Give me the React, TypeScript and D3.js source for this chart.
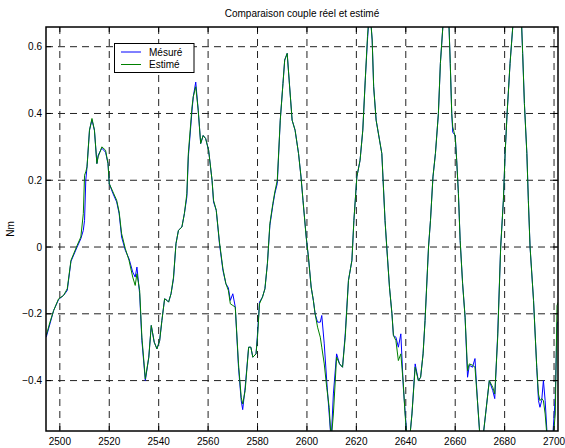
import React from 'react';
import * as d3 from 'd3';

// échantillons (abscisse) et couples
const samples = [
  2494.5, 2496, 2497.5, 2499.5, 2501.5, 2503, 2504.5, 2507, 2508.5, 2509.5,
  2510, 2510.5, 2511, 2512, 2513, 2514, 2515, 2515.5, 2517, 2518.5,
  2519.5, 2520, 2521.5, 2523, 2524, 2525, 2526.5, 2528, 2529.5, 2530.5,
  2531.2, 2532.3, 2533.2, 2534.6, 2536, 2537, 2538.2, 2539.3, 2540.4, 2541.3,
  2542.4, 2543.4, 2544, 2545, 2546, 2547, 2548, 2549.4, 2550.4, 2551.4,
  2552, 2553.5, 2554, 2555, 2556, 2556.5, 2557, 2558, 2559, 2560.2,
  2561.6, 2562.2, 2563.3, 2564.6, 2566, 2567.2, 2568.2, 2569, 2570, 2571,
  2572.3, 2573.4, 2574, 2575, 2576.4, 2577.3, 2578.1, 2579.4, 2580, 2580.8,
  2582, 2583, 2584, 2585, 2586.2, 2587, 2588, 2589.2, 2590.3, 2591,
  2592, 2592.8, 2594, 2595.2, 2596.6, 2597.6, 2598.4, 2599.7, 2600.6, 2601.7,
  2602.6, 2603.3, 2604.3, 2605.4, 2606, 2607, 2608, 2609, 2609.8, 2610.7,
  2612, 2613.2, 2614.4, 2615.5, 2616.8, 2618.2, 2619, 2620.2, 2621.5, 2622.6,
  2623.6, 2624.5, 2625.4, 2626.4, 2627, 2628, 2630.3, 2631.6, 2632.3, 2633.4,
  2634.4, 2635, 2636, 2637, 2638, 2639, 2639.7, 2641, 2642.5, 2643.8,
  2645.1, 2646, 2647, 2647.8, 2649.2, 2650, 2651, 2652, 2653.2, 2654,
  2655, 2656.2, 2657.5, 2658, 2658.6, 2659, 2660, 2660.6, 2661.3, 2662,
  2663, 2664, 2665, 2665.7, 2667, 2668, 2669, 2670.5, 2672.3, 2673.8,
  2675.2, 2676, 2677.2, 2678.4, 2679.5, 2680.2, 2681, 2682.2, 2683.3, 2685,
  2686.9, 2687.3, 2688, 2689, 2689.6, 2690.3, 2691.7, 2693, 2693.7, 2694.3,
  2695, 2695.7, 2696.4, 2697.5, 2699, 2700.5, 2701.2, 2702,
];

const mesure = [
  -0.27, -0.23, -0.19, -0.157, -0.145, -0.13, -0.043, 0, 0.025, 0.05,
  0.08, 0.2, 0.24, 0.35, 0.381, 0.35, 0.25, 0.275, 0.296, 0.284,
  0.25, 0.19, 0.16, 0.135, 0.1, 0.03, -0.01, -0.035, -0.075, -0.09,
  -0.06, -0.14, -0.28, -0.4, -0.33, -0.235, -0.285, -0.305, -0.28, -0.22,
  -0.155, -0.16, -0.165, -0.14, -0.095, 0.01, 0.05, 0.06, 0.1, 0.15,
  0.27, 0.41, 0.45, 0.494, 0.41, 0.36, 0.31, 0.334, 0.325, 0.29,
  0.2, 0.135, 0.11, 0.01, -0.07, -0.11, -0.122, -0.16, -0.14, -0.18,
  -0.36, -0.46, -0.487, -0.42, -0.3, -0.3, -0.33, -0.32, -0.26, -0.165,
  -0.15, -0.125, -0.05, 0.065, 0.125, 0.16, 0.19, 0.38, 0.49, 0.56,
  0.58, 0.5, 0.38, 0.35, 0.28, 0.21, 0.14, 0.03, -0.03, -0.12,
  -0.16, -0.2, -0.225, -0.225, -0.205, -0.29, -0.4, -0.5, -0.58, -0.44,
  -0.32, -0.35, -0.36, -0.26, -0.1, -0.04, 0.08, 0.21, 0.26, 0.35,
  0.5, 0.62, 0.72, 0.62, 0.48, 0.38, 0.28, 0.08, 0, -0.12,
  -0.2, -0.265, -0.27, -0.3, -0.26, -0.42, -0.49, -0.62, -0.5, -0.35,
  -0.4, -0.39, -0.32, -0.22, 0, 0.08, 0.21, 0.28, 0.4, 0.55,
  0.66, 0.8, 0.66, 0.55, 0.4, 0.344, 0.334, 0.26, 0.16, 0.02,
  -0.11, -0.21, -0.39, -0.354, -0.36, -0.334, -0.46, -0.62, -0.5, -0.4,
  -0.43, -0.454, -0.26, 0, 0.14, 0.28, 0.4, 0.55, 0.66, 0.8,
  0.66, 0.58, 0.43, 0.28, 0.14, 0, -0.16, -0.36, -0.46, -0.48,
  -0.46, -0.4, -0.46, -0.6, -0.62, -0.45, -0.23, -0.22,
];

const estime = [
  -0.265, -0.225, -0.19, -0.155, -0.145, -0.125, -0.04, 0.005, 0.03, 0.1,
  0.215, 0.225, 0.24, 0.35, 0.385, 0.35, 0.25, 0.27, 0.3, 0.29,
  0.25, 0.19, 0.165, 0.14, 0.105, 0.04, -0.005, -0.04, -0.09, -0.115,
  -0.08, -0.13, -0.27, -0.395, -0.33, -0.235, -0.285, -0.305, -0.28, -0.22,
  -0.155, -0.16, -0.165, -0.14, -0.09, 0.01, 0.05, 0.06, 0.1, 0.16,
  0.28, 0.42, 0.45, 0.48, 0.41, 0.36, 0.31, 0.334, 0.325, 0.29,
  0.2, 0.14, 0.11, 0.015, -0.065, -0.11, -0.13, -0.17, -0.175, -0.18,
  -0.35, -0.45, -0.47, -0.43, -0.3, -0.3, -0.33, -0.32, -0.27, -0.17,
  -0.15, -0.125, -0.05, 0.07, 0.13, 0.165, 0.2, 0.38, 0.49, 0.56,
  0.58, 0.5, 0.38, 0.35, 0.28, 0.21, 0.14, 0.03, -0.03, -0.12,
  -0.16, -0.2, -0.24, -0.27, -0.3, -0.35, -0.42, -0.48, -0.58, -0.5,
  -0.33, -0.35, -0.36, -0.27, -0.1, -0.04, 0.08, 0.21, 0.26, 0.35,
  0.5, 0.63, 0.72, 0.62, 0.48, 0.38, 0.28, 0.08, 0, -0.12,
  -0.2, -0.265, -0.28, -0.34, -0.32, -0.41, -0.5, -0.62, -0.5, -0.36,
  -0.4, -0.39, -0.32, -0.22, 0, 0.08, 0.21, 0.28, 0.4, 0.55,
  0.66, 0.8, 0.66, 0.55, 0.4, 0.36, 0.33, 0.26, 0.16, 0.02,
  -0.11, -0.21, -0.37, -0.35, -0.354, -0.36, -0.46, -0.62, -0.5, -0.4,
  -0.42, -0.44, -0.27, 0, 0.14, 0.28, 0.4, 0.55, 0.66, 0.8,
  0.66, 0.58, 0.43, 0.28, 0.14, 0, -0.16, -0.36, -0.44, -0.46,
  -0.454, -0.46, -0.5, -0.6, -0.62, -0.5, -0.175, -0.16,
];

const xTicks = [2500, 2520, 2540, 2560, 2580, 2600, 2620, 2640, 2660, 2680, 2700];
const yTicks = [-0.4, -0.2, 0, 0.2, 0.4, 0.6];
const legendLabels = ['Mésuré', 'Estimé'];
const colors = ['#0000ff', '#008000'];

const W = 565;
const H = 448;
const left = 46, right = 558, top = 27, bottom = 431;

const App = () => {
  const x = d3.scaleLinear().domain([2494.4, 2701.6]).range([left, right]);
  const y = d3.scaleLinear().domain([-0.551, 0.659]).range([bottom, top]);

  const line = d3.line<number>()
    .x((d, i) => x(samples[i]))
    .y(d => y(d));

  const font = 'Arial, "Liberation Sans", Helvetica, sans-serif';
  const dash = '7,5';

  return (
    <div style={{ position: 'absolute', left: 0, top: 0, width: W, height: H, background: '#fff' }}>
      <svg width={W} height={H} style={{ display: 'block' }} fontFamily={font} fontSize={10}>
        <defs>
          <clipPath id="plot">
            <rect x={left} y={top} width={right - left} height={bottom - top} />
          </clipPath>
        </defs>

        {/* grille */}
        {xTicks.map(t => (
          <line key={'gx' + t} x1={x(t)} x2={x(t)} y1={top} y2={bottom}
            stroke="#222" strokeWidth={1} strokeDasharray={dash} />
        ))}
        {yTicks.map(t => (
          <line key={'gy' + t} x1={left} x2={right} y1={y(t)} y2={y(t)}
            stroke="#222" strokeWidth={1} strokeDasharray={dash} />
        ))}

        {/* courbes */}
        <g clipPath="url(#plot)" fill="none" strokeWidth={1}>
          <path d={line(mesure) || ''} stroke={colors[0]} />
          <path d={line(estime) || ''} stroke={colors[1]} />
        </g>

        {/* cadre et graduations */}
        <rect x={left} y={top} width={right - left} height={bottom - top}
          fill="none" stroke="#000" strokeWidth={1.5} />
        {xTicks.map(t => (
          <g key={'tx' + t}>
            <line x1={x(t)} x2={x(t)} y1={bottom} y2={bottom - 5} stroke="#000" />
            <line x1={x(t)} x2={x(t)} y1={top} y2={top + 5} stroke="#000" />
            <text x={x(t)} y={445} textAnchor="middle">{t}</text>
          </g>
        ))}
        {yTicks.map(t => (
          <g key={'ty' + t}>
            <line x1={left} x2={left + 5} y1={y(t)} y2={y(t)} stroke="#000" />
            <line x1={right} x2={right - 5} y1={y(t)} y2={y(t)} stroke="#000" />
            <text x={left - 4} y={y(t)} dy="0.35em" textAnchor="end">
              {t === 0 ? '0' : d3.format('.1f')(t)}
            </text>
          </g>
        ))}

        {/* titre et étiquette */}
        <text x={(left + right) / 2} y={17} textAnchor="middle">Comparaison couple réel et estimé</text>
        <text transform={`translate(14,${(top + bottom) / 2}) rotate(-90)`} textAnchor="middle">Nm</text>

        {/* légende */}
        <rect x={114.5} y={43.5} width={79.5} height={29} fill="#fff" stroke="#000" strokeWidth={1} />
        {legendLabels.map((l, i) => (
          <g key={l}>
            <line x1={121} x2={141} y1={52 + i * 12.5} y2={52 + i * 12.5} stroke={colors[i]} />
            <text x={149} y={52 + i * 12.5} dy="0.35em">{l}</text>
          </g>
        ))}
      </svg>
    </div>
  );
};

export default App;
